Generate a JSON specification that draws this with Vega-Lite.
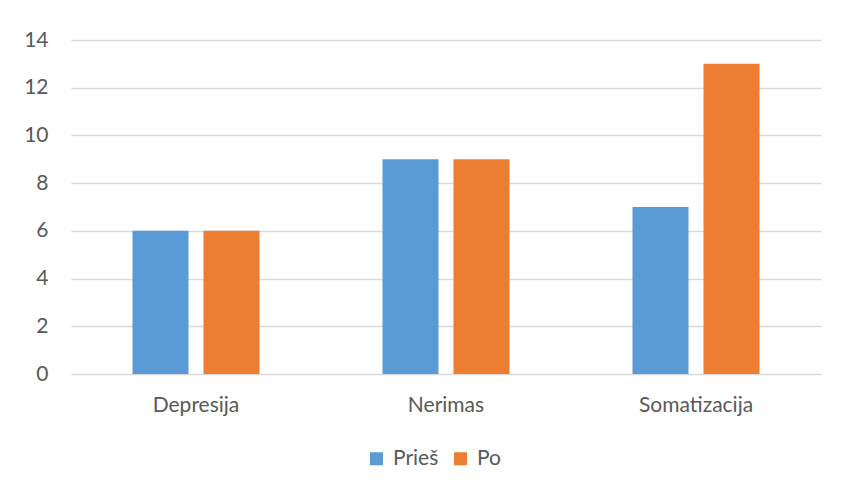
{
  "$schema": "https://vega.github.io/schema/vega-lite/v6.json",
  "width": 750,
  "height": 334,
  "autosize": {"type": "none"},
  "padding": {"left": 71, "top": 40, "right": 22, "bottom": 117},
  "background": "white",
  "data": {
    "values": [
      {"category": "Depresija", "period": "Prieš", "value": 6},
      {"category": "Depresija", "period": "Po", "value": 6},
      {"category": "Nerimas", "period": "Prieš", "value": 9},
      {"category": "Nerimas", "period": "Po", "value": 9},
      {"category": "Somatizacija", "period": "Prieš", "value": 7},
      {"category": "Somatizacija", "period": "Po", "value": 13}
    ]
  },
  "mark": {"type": "bar"},
  "encoding": {
    "x": {
      "field": "category",
      "type": "nominal",
      "sort": ["Depresija", "Nerimas", "Somatizacija"],
      "scale": {"paddingInner": 0, "paddingOuter": 0},
      "axis": {
        "title": null,
        "labelAngle": 0,
        "domain": false,
        "ticks": false,
        "labelPadding": 20,
        "labelFont": "Lato",
        "labelFontSize": 21,
        "labelColor": "#595959"
      }
    },
    "xOffset": {
      "field": "period",
      "sort": ["Prieš", "Po"],
      "scale": {"paddingInner": 0.211, "paddingOuter": 0.866}
    },
    "y": {
      "field": "value",
      "type": "quantitative",
      "scale": {"domain": [0, 14], "nice": false},
      "axis": {
        "title": null,
        "values": [0, 2, 4, 6, 8, 10, 12, 14],
        "domain": false,
        "ticks": false,
        "labelPadding": 23,
        "labelFont": "Lato",
        "labelFontSize": 21,
        "labelColor": "#595959",
        "gridColor": "#D9D9D9",
        "gridWidth": 1.3
      }
    },
    "color": {
      "field": "period",
      "type": "nominal",
      "sort": ["Prieš", "Po"],
      "scale": {"domain": ["Prieš", "Po"], "range": ["#5B9BD5", "#ED7D31"]},
      "legend": {
        "title": null,
        "orient": "none",
        "direction": "horizontal",
        "legendX": 295,
        "legendY": 408,
        "symbolType": "square",
        "symbolSize": 169,
        "symbolStrokeWidth": 0,
        "symbolOpacity": 1,
        "labelFont": "Lato",
        "labelFontSize": 21,
        "labelColor": "#595959",
        "labelOffset": 6,
        "columnPadding": 11
      }
    }
  },
  "config": {"view": {"stroke": null}}
}
